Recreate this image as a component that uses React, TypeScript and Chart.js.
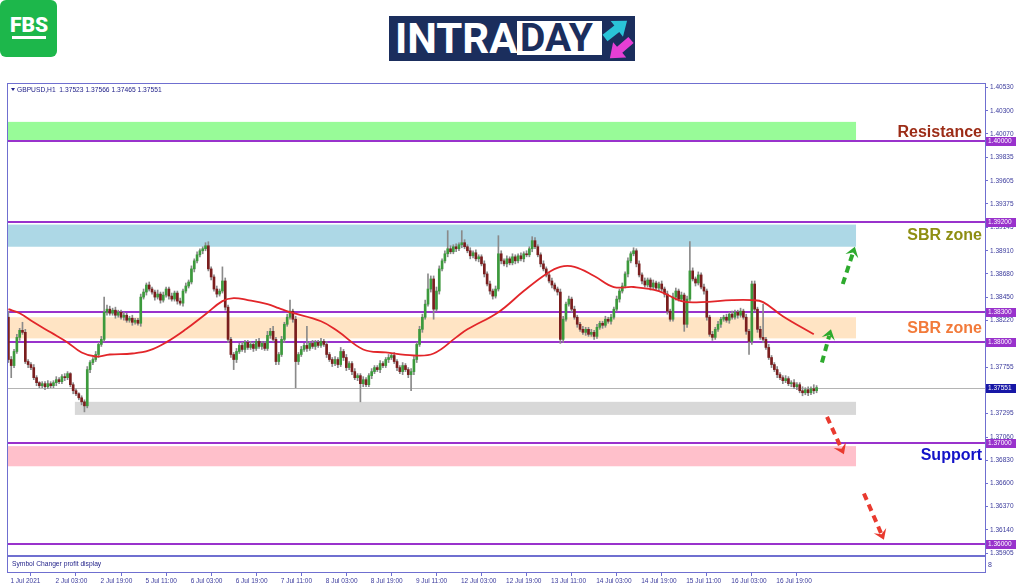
import React, { useEffect, useRef } from "react";
import { Chart, registerables } from "chart.js";

Chart.register(...registerables);

// ---------- data ----------
const xLabels = [
  "1 Jul 2021", "2 Jul 03:00", "2 Jul 19:00", "5 Jul 11:00", "6 Jul 03:00", "6 Jul 19:00",
  "7 Jul 11:00", "8 Jul 03:00", "8 Jul 19:00", "9 Jul 11:00", "12 Jul 03:00", "12 Jul 19:00",
  "13 Jul 11:00", "14 Jul 03:00", "14 Jul 19:00", "15 Jul 11:00", "16 Jul 03:00", "16 Jul 19:00",
];
const barsPerLabel = 16;

const firstOpen = 1.3825;
// hourly closes GBPUSD H1
const closes = [
  1.3783, 1.3777, 1.3791, 1.3805, 1.3812, 1.3810, 1.3781, 1.3778, 1.3775, 1.3765, 1.3760, 1.3757, 1.3759, 1.3756, 1.3759, 1.3757,
  1.3760, 1.3763, 1.3761, 1.3766, 1.3765, 1.3769, 1.3758, 1.3752, 1.3749, 1.3745, 1.3741, 1.3737, 1.3773, 1.3780, 1.3783, 1.3788,
  1.3798, 1.3803, 1.3830, 1.3833, 1.3829, 1.3832, 1.3827, 1.3830, 1.3825, 1.3827, 1.3822, 1.3824, 1.3820, 1.3822, 1.3819, 1.3845,
  1.3850, 1.3857, 1.3853, 1.3850, 1.3845, 1.3848, 1.3842, 1.3847, 1.3853, 1.3846, 1.3843, 1.3849, 1.3841, 1.3839, 1.3851, 1.3856,
  1.3860, 1.3873, 1.3881, 1.3887, 1.3891, 1.3893, 1.3896, 1.3873, 1.3865, 1.3853, 1.3848, 1.3851, 1.3861, 1.3835, 1.3803, 1.3788,
  1.3783, 1.3791, 1.3797, 1.3793, 1.3800, 1.3795, 1.3798, 1.3794, 1.3801, 1.3796, 1.3799, 1.3794, 1.3807, 1.3811, 1.3803, 1.3781,
  1.3788, 1.3803, 1.3818, 1.3825, 1.3831, 1.3823, 1.3781, 1.3788, 1.3793, 1.3797, 1.3794, 1.3799, 1.3796, 1.3800, 1.3797, 1.3801,
  1.3798, 1.3788, 1.3783, 1.3779, 1.3783, 1.3778, 1.3791, 1.3785, 1.3775, 1.3779, 1.3771, 1.3765, 1.3767, 1.3759, 1.3763, 1.3758,
  1.3767, 1.3771, 1.3775, 1.3773, 1.3779, 1.3777, 1.3783, 1.3785, 1.3787, 1.3781, 1.3775, 1.3771, 1.3777, 1.3773, 1.3768, 1.3771,
  1.3783, 1.3798, 1.3813, 1.3825, 1.3838, 1.3853, 1.3863, 1.3833, 1.3851, 1.3873, 1.3881, 1.3888, 1.3893, 1.3890, 1.3895, 1.3893,
  1.3897, 1.3899, 1.3895, 1.3891, 1.3886, 1.3889, 1.3883, 1.3885, 1.3878, 1.3868, 1.3858, 1.3851, 1.3846, 1.3853, 1.3888, 1.3881,
  1.3878, 1.3883, 1.3879, 1.3885, 1.3881, 1.3886, 1.3883, 1.3888, 1.3887, 1.3893, 1.3901, 1.3895, 1.3887, 1.3878, 1.3873, 1.3867,
  1.3861, 1.3857, 1.3853, 1.3850, 1.3803, 1.3823, 1.3838, 1.3843, 1.3833, 1.3825, 1.3818, 1.3813, 1.3810, 1.3813, 1.3808, 1.3810,
  1.3806, 1.3815, 1.3819, 1.3817, 1.3823, 1.3821, 1.3825, 1.3833, 1.3843, 1.3851, 1.3856, 1.3868, 1.3881, 1.3888, 1.3891, 1.3878,
  1.3867, 1.3861, 1.3857, 1.3862, 1.3855, 1.3859, 1.3854, 1.3858, 1.3853, 1.3848, 1.3831, 1.3823, 1.3845, 1.3851, 1.3843, 1.3847,
  1.3818, 1.3843, 1.3871, 1.3863, 1.3859, 1.3867, 1.3855, 1.3851, 1.3825, 1.3808, 1.3805, 1.3813, 1.3818, 1.3823, 1.3825, 1.3822,
  1.3828, 1.3825, 1.3830, 1.3827, 1.3831, 1.3825, 1.3811, 1.3801, 1.3858, 1.3833, 1.3813, 1.3805, 1.3803, 1.3795, 1.3785, 1.3778,
  1.3773, 1.3768, 1.3765, 1.3762, 1.3764, 1.3759, 1.3760, 1.3756, 1.3758, 1.3752, 1.3750, 1.3753, 1.3750, 1.3754, 1.3752, 1.37551,
];
// wick lengths beyond the body, in pips
const wickUp = [
  6, 3, 2, 3, 2, 8, 3, 2, 2, 3, 2, 1, 2, 2, 3, 2,
  2, 3, 2, 2, 3, 2, 1, 2, 2, 1, 2, 2, 3, 2, 2, 3,
  2, 3, 15, 4, 3, 2, 3, 2, 2, 3, 2, 2, 3, 2, 2, 3,
  3, 2, 3, 2, 2, 4, 2, 3, 2, 2, 3, 2, 2, 3, 2, 3,
  2, 3, 2, 3, 2, 2, 3, 4, 2, 2, 3, 2, 14, 3, 2, 2,
  2, 3, 2, 3, 2, 2, 3, 2, 2, 3, 2, 2, 4, 3, 5, 2,
  2, 3, 2, 3, 11, 2, 3, 2, 3, 2, 19, 2, 3, 2, 2, 3,
  2, 3, 2, 2, 3, 2, 4, 2, 3, 2, 2, 3, 2, 2, 3, 2,
  2, 3, 2, 2, 3, 2, 2, 3, 2, 3, 2, 2, 3, 2, 2, 3,
  3, 2, 3, 3, 4, 15, 3, 3, 4, 3, 2, 3, 18, 3, 2, 3,
  2, 12, 3, 2, 3, 2, 3, 2, 2, 3, 2, 3, 2, 3, 18, 3,
  2, 3, 2, 3, 2, 2, 3, 2, 3, 2, 4, 3, 2, 2, 3, 2,
  2, 3, 2, 2, 3, 3, 2, 3, 2, 3, 2, 2, 3, 2, 2, 3,
  2, 3, 2, 2, 3, 2, 3, 2, 3, 2, 3, 2, 3, 2, 3, 2,
  3, 2, 3, 2, 2, 3, 2, 2, 3, 2, 3, 2, 4, 3, 2, 3,
  2, 3, 29, 3, 2, 3, 2, 3, 2, 2, 3, 2, 3, 2, 2, 3,
  2, 3, 2, 2, 3, 2, 3, 2, 3, 3, 2, 3, 33, 2, 3, 2,
  2, 3, 2, 2, 3, 2, 2, 3, 2, 2, 4, 2, 3, 2, 4, 2,
];
const wickDown = [
  3, 12, 2, 2, 3, 2, 2, 3, 2, 2, 3, 2, 2, 3, 2, 2,
  2, 3, 2, 2, 3, 2, 2, 3, 2, 2, 3, 6, 2, 3, 2, 2,
  3, 2, 2, 3, 2, 2, 3, 2, 2, 3, 2, 2, 3, 2, 2, 3,
  2, 3, 2, 2, 3, 2, 3, 2, 2, 3, 2, 2, 3, 2, 3, 2,
  2, 2, 3, 2, 2, 3, 2, 2, 3, 2, 3, 2, 2, 3, 3, 3,
  10, 3, 2, 2, 3, 2, 2, 3, 2, 2, 3, 2, 2, 3, 2, 3,
  3, 2, 3, 2, 2, 3, 26, 3, 2, 2, 3, 2, 2, 3, 2, 2,
  2, 3, 2, 3, 2, 3, 2, 3, 3, 2, 3, 2, 3, 18, 3, 2,
  2, 3, 2, 2, 3, 2, 2, 3, 2, 2, 3, 2, 3, 2, 3, 16,
  3, 3, 2, 3, 2, 2, 3, 10, 2, 3, 2, 2, 3, 2, 2, 3,
  2, 3, 2, 2, 3, 2, 2, 3, 2, 3, 2, 3, 3, 2, 2, 3,
  2, 3, 2, 2, 3, 2, 2, 3, 2, 2, 3, 2, 2, 3, 2, 2,
  2, 3, 2, 3, 4, 3, 2, 2, 3, 2, 3, 2, 2, 3, 2, 2,
  3, 2, 2, 3, 2, 2, 3, 2, 2, 3, 2, 2, 3, 2, 2, 3,
  2, 3, 2, 2, 3, 2, 2, 3, 2, 3, 3, 2, 2, 3, 2, 2,
  7, 3, 2, 2, 3, 2, 2, 3, 3, 2, 3, 2, 2, 3, 2, 2,
  3, 2, 2, 3, 2, 2, 3, 13, 3, 2, 3, 2, 3, 2, 2, 3,
  2, 3, 2, 3, 2, 2, 3, 2, 3, 2, 3, 2, 3, 2, 3, 2,
];

// moving average (read at sample bars)
const maBars = [0, 4, 9, 15, 21, 26, 31, 36, 44, 50, 56, 63, 70, 76, 80, 85, 92, 96, 100, 111, 117, 126, 134, 144, 151, 159, 163, 174, 183, 191, 196, 201, 208, 215, 222, 231, 239, 246, 257, 264, 268, 275, 286];
const maValues = [1.3833, 1.3829, 1.3820, 1.3810, 1.3800, 1.3790, 1.3786, 1.3788, 1.3789, 1.3792, 1.3800, 1.3813, 1.3828, 1.3841, 1.3844, 1.3842, 1.3838, 1.3834, 1.3830, 1.3821, 1.3811, 1.3793, 1.3790, 1.3787, 1.3789, 1.3805, 1.3813, 1.3830, 1.3851, 1.3868, 1.3875, 1.3875, 1.3866, 1.3855, 1.3855, 1.3851, 1.3841, 1.3840, 1.3842, 1.3842, 1.3840, 1.3826, 1.3808];

const yTicks = [1.4053, 1.403, 1.4007, 1.39835, 1.39605, 1.39375, 1.39145, 1.3891, 1.3868, 1.3845, 1.3822, 1.3799, 1.37755, 1.37525, 1.37295, 1.3706, 1.3683, 1.366, 1.3637, 1.3614, 1.35905];
const levelPrices = [1.4, 1.392, 1.383, 1.38, 1.37, 1.36];
const lastPrice = 1.37551;
const headerText = "GBPUSD,H1  1.37523 1.37566 1.37465 1.37551";

const zoneTop = [1.4019, 1.3917, 1.3825, 1.3741, 1.3697];
const zoneBottom = [1.4001, 1.3895, 1.3804, 1.3728, 1.3677];
const zoneStart = [-0.5, -0.5, -0.5, 23.6, -0.5];
const zoneEnd = [301, 301, 301, 301, 301];
const zoneColors = ["#98fb98", "#add8e6", "#ffe4c4", "#d8d8d8", "#ffc0cb"];

const zoneLabels = ["Resistance", "SBR zone", "SBR zone", "Support"];
const zoneLabelPrices = [1.4008, 1.39057, 1.38133, 1.36872];
const zoneLabelColors = ["#9c2c16", "#8e8e12", "#f27a3a", "#1212c8"];

const arrowFromBar = [288.9, 296.3, 290.7, 303.8];
const arrowFromPrice = [1.378, 1.3858, 1.3726, 1.365];
const arrowToBar = [292.1, 300.6, 296.7, 310.9];
const arrowToPrice = [1.3813, 1.3895, 1.3689, 1.3604];
const arrowColors = ["#2daa2d", "#2daa2d", "#e93a2f", "#e93a2f"];

// ---------- styles ----------
const FRAME = "#6f6fd0";
const TICK_COLOR = "#3a3a9c";
const LEVEL = "#9932cc";
const BULL = "#3c9a3c";
const BEAR = "#7a1e1e";
const WICK = "#8a8a8a";
const SMALL_FONT = { family: "Liberation Sans", size: 6.5 };

function drawArrow(ctx: CanvasRenderingContext2D, x0: number, y0: number, x1: number, y1: number, color: string) {
  const ang = Math.atan2(y1 - y0, x1 - x0);
  const head = 12;
  const sx = x1 - Math.cos(ang) * head * 0.55;
  const sy = y1 - Math.sin(ang) * head * 0.55;
  ctx.save();
  ctx.strokeStyle = color;
  ctx.lineWidth = 4;
  ctx.setLineDash([7, 5]);
  ctx.beginPath();
  ctx.moveTo(x0, y0);
  ctx.lineTo(sx, sy);
  ctx.stroke();
  ctx.setLineDash([]);
  ctx.fillStyle = color;
  ctx.beginPath();
  ctx.moveTo(x1, y1);
  ctx.lineTo(x1 - head * Math.cos(ang - 0.6), y1 - head * Math.sin(ang - 0.6));
  ctx.lineTo(x1 - head * 0.5 * Math.cos(ang), y1 - head * 0.5 * Math.sin(ang));
  ctx.lineTo(x1 - head * Math.cos(ang + 0.6), y1 - head * Math.sin(ang + 0.6));
  ctx.closePath();
  ctx.fill();
  ctx.restore();
}

const overlay = {
  id: "overlay",
  beforeDatasetsDraw(chart: any) {
    const { ctx, chartArea: a, scales } = chart;
    const x = scales.x, y = scales.y;
    ctx.save();
    ctx.beginPath();
    ctx.rect(a.left, a.top, a.right - a.left, a.bottom - a.top);
    ctx.clip();
    zoneTop.forEach((t, k) => {
      const x0 = x.getPixelForValue(zoneStart[k]);
      const x1 = x.getPixelForValue(zoneEnd[k]);
      const y0 = y.getPixelForValue(t);
      const y1 = y.getPixelForValue(zoneBottom[k]);
      ctx.fillStyle = zoneColors[k];
      ctx.fillRect(x0, y0, x1 - x0, y1 - y0);
    });
    ctx.strokeStyle = "#b4b4b4";
    ctx.lineWidth = 1;
    const py = Math.round(y.getPixelForValue(lastPrice)) + 0.5;
    ctx.beginPath();
    ctx.moveTo(a.left, py);
    ctx.lineTo(a.right, py);
    ctx.stroke();
    ctx.strokeStyle = LEVEL;
    ctx.lineWidth = 2;
    levelPrices.forEach((p) => {
      const ly = Math.round(y.getPixelForValue(p));
      ctx.beginPath();
      ctx.moveTo(a.left, ly);
      ctx.lineTo(a.right, ly);
      ctx.stroke();
    });
    ctx.restore();
  },
  afterDatasetsDraw(chart: any) {
    const { ctx, chartArea: a, scales } = chart;
    const x = scales.x, y = scales.y;
    ctx.save();
    arrowFromBar.forEach((b, k) => {
      drawArrow(
        ctx,
        x.getPixelForValue(b), y.getPixelForValue(arrowFromPrice[k]),
        x.getPixelForValue(arrowToBar[k]), y.getPixelForValue(arrowToPrice[k]),
        arrowColors[k]
      );
    });
    ctx.font = 'bold 16px "Liberation Sans"';
    ctx.textAlign = "right";
    ctx.textBaseline = "middle";
    zoneLabels.forEach((t, k) => {
      ctx.fillStyle = zoneLabelColors[k];
      ctx.fillText(t, a.right - 3, y.getPixelForValue(zoneLabelPrices[k]));
    });
    // header
    ctx.fillStyle = "#23238a";
    ctx.beginPath();
    ctx.moveTo(a.left + 4, a.top + 5);
    ctx.lineTo(a.left + 8, a.top + 5);
    ctx.lineTo(a.left + 6, a.top + 8);
    ctx.closePath();
    ctx.fill();
    ctx.font = '6.7px "Liberation Sans"';
    ctx.textAlign = "left";
    ctx.fillText(headerText, a.left + 10, a.top + 7);
    // sub window
    const sub = a.bottom - 16;
    ctx.fillStyle = "#ffffff";
    ctx.fillRect(a.left + 1, sub, a.right - a.left - 1, a.bottom - sub);
    ctx.strokeStyle = FRAME;
    ctx.lineWidth = 2;
    ctx.beginPath();
    ctx.moveTo(a.left, sub);
    ctx.lineTo(a.right, sub);
    ctx.stroke();
    ctx.fillStyle = "#23238a";
    ctx.font = '6.7px "Liberation Sans"';
    ctx.fillText("Symbol Changer profit display", a.left + 5, sub + 8);
    ctx.restore();
  },
  afterDraw(chart: any) {
    const { ctx, chartArea: a, scales } = chart;
    const y = scales.y;
    ctx.save();
    ctx.strokeStyle = FRAME;
    ctx.lineWidth = 1;
    ctx.strokeRect(a.left + 0.5, a.top + 0.5, a.right - a.left, a.bottom - a.top);
    ctx.font = '6.5px "Liberation Sans"';
    ctx.textAlign = "left";
    ctx.textBaseline = "middle";
    const box = (p: number, color: string) => {
      const by = Math.round(y.getPixelForValue(p));
      ctx.fillStyle = color;
      ctx.fillRect(a.right + 1, by - 4, 30, 9);
      ctx.fillStyle = "#ffffff";
      ctx.fillText(p.toFixed(5), a.right + 3, by + 0.5);
    };
    levelPrices.forEach((p) => box(p, LEVEL));
    box(lastPrice, "#1717a6");
    ctx.fillStyle = TICK_COLOR;
    ctx.font = '7px "Liberation Sans"';
    ctx.fillText("8", a.right + 3, a.bottom - 7);
    ctx.restore();
  },
};

export default function App() {
  const ref = useRef<HTMLCanvasElement>(null);

  useEffect(() => {
    const opens = closes.map((c, i) => (i === 0 ? firstOpen : closes[i - 1]));
    const bodyData = closes.map((c, i) => ({ x: i, y: [opens[i], c] }));
    const wickData = closes.map((c, i) => ({
      x: i,
      y: [Math.min(opens[i], c) - wickDown[i] / 10000, Math.max(opens[i], c) + wickUp[i] / 10000],
    }));
    const bodyColors = closes.map((c, i) => (c >= opens[i] ? BULL : BEAR));
    const maData = maBars.map((b, k) => ({ x: b, y: maValues[k] }));

    const chart = new Chart(ref.current as HTMLCanvasElement, {
      type: "bar",
      data: {
        datasets: [
          {
            type: "line",
            data: maData as any,
            borderColor: "#e2262a",
            borderWidth: 1.8,
            pointRadius: 0,
            tension: 0.4,
            fill: false,
            order: 0,
          } as any,
          {
            type: "bar",
            data: bodyData as any,
            backgroundColor: bodyColors,
            barThickness: 2,
            minBarLength: 1,
            grouped: false,
            order: 1,
          } as any,
          {
            type: "bar",
            data: wickData as any,
            backgroundColor: WICK,
            barThickness: 1,
            grouped: false,
            order: 2,
          } as any,
        ],
      },
      options: {
        animation: false,
        responsive: true,
        maintainAspectRatio: false,
        events: [],
        layout: { padding: { left: 7, top: 3, right: 0, bottom: 0 } },
        plugins: {
          legend: { display: false },
          tooltip: { enabled: false },
        },
        scales: {
          x: {
            type: "linear",
            min: -0.5,
            max: 346.8,
            offset: false,
            position: "bottom",
            afterBuildTicks: (s: any) => {
              s.ticks = xLabels.map((_, k) => ({ value: k * barsPerLabel }));
            },
            afterFit: (s: any) => {
              s.height = 15;
              s.paddingLeft = 0;
              s.paddingRight = 0;
            },
            ticks: {
              autoSkip: false,
              maxRotation: 0,
              minRotation: 0,
              align: "start",
              labelOffset: 2,
              padding: 1,
              color: TICK_COLOR,
              font: SMALL_FONT,
              callback: (v: any) => xLabels[Math.round(Number(v) / barsPerLabel)],
            },
            grid: { drawOnChartArea: false, drawTicks: true, tickLength: 4, color: FRAME },
            border: { display: true, color: FRAME },
          } as any,
          y: {
            type: "linear",
            position: "right",
            min: 1.3572,
            max: 1.40576,
            afterBuildTicks: (s: any) => {
              s.ticks = yTicks.map((v) => ({ value: v }));
            },
            afterFit: (s: any) => {
              s.width = 39;
              s.paddingTop = 0;
              s.paddingBottom = 0;
            },
            ticks: {
              autoSkip: false,
              padding: 2,
              color: TICK_COLOR,
              font: SMALL_FONT,
              callback: (v: any) => Number(v).toFixed(5),
            },
            grid: { drawOnChartArea: false, drawTicks: true, tickLength: 3, color: FRAME },
            border: { display: true, color: FRAME },
          } as any,
        },
      },
      plugins: [overlay as any],
    });
    return () => chart.destroy();
  }, []);

  return (
    <div
      style={{
        position: "absolute",
        left: 0,
        top: 0,
        width: 1024,
        height: 587,
        overflow: "hidden",
        background: "#ffffff",
        fontFamily: "Roboto, sans-serif",
      }}
    >
      {/* FBS logo */}
      <div style={{ position: "absolute", left: 0, top: 0, width: 57, height: 57, background: "#1db74b", borderRadius: 6 }}>
        <div
          style={{
            position: "absolute",
            left: 0,
            top: 14,
            width: 58,
            textAlign: "center",
            color: "#ffffff",
            fontWeight: 900,
            fontSize: 21,
            lineHeight: "22px",
            fontFamily: "Roboto",
          }}
        >
          FBS
        </div>
        <div style={{ position: "absolute", left: 12, top: 36, width: 34, height: 3, background: "#ffffff" }} />
      </div>

      {/* INTRADAY logo */}
      <div style={{ position: "absolute", left: 389, top: 16, width: 246, height: 45, background: "#1b2e5d" }}>
        <div
          style={{
            position: "absolute",
            left: 6,
            top: 0,
            color: "#ffffff",
            fontWeight: 700,
            fontSize: 42,
            lineHeight: "45px",
            fontFamily: "Roboto",
          }}
        >
          INTRA
        </div>
        <div style={{ position: "absolute", left: 128, top: 5, width: 85, height: 34, background: "#ffffff" }}>
          <div
            style={{
              position: "absolute",
              left: 3,
              top: -3,
              color: "#1b2e5d",
              fontWeight: 700,
              fontSize: 39,
              lineHeight: "40px",
              fontFamily: "Roboto",
            }}
          >
            DAY
          </div>
        </div>
        <svg style={{ position: "absolute", left: 213, top: 0 }} width={33} height={45}>
          <g transform="translate(3,22) rotate(-38)">
            <polygon points="0,-4 15,-4 15,-10 28,0 15,10 15,4 0,4" fill="#2ac3d8" />
          </g>
          <g transform="translate(29,24) rotate(139)">
            <polygon points="0,-4 15,-4 15,-10 28,0 15,10 15,4 0,4" fill="#e63fd5" />
          </g>
        </svg>
      </div>

      <div style={{ position: "absolute", left: 0, top: 80, width: 1024, height: 507 }}>
        <canvas ref={ref} />
      </div>
    </div>
  );
}
